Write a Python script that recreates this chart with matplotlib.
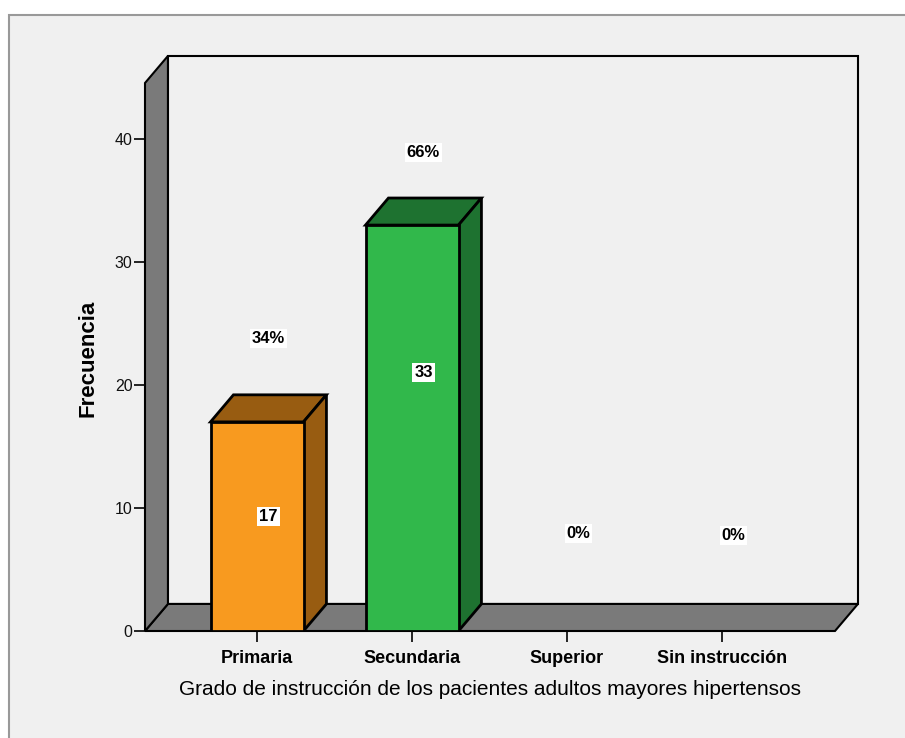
import numpy as np
import matplotlib.pyplot as plt
from matplotlib.patches import Polygon, Rectangle
from matplotlib import font_manager

categories = ["Primaria", "Secundaria", "Superior", "Sin instrucción"]
counts = [17, 33, 0, 0]
percents = ["34%", "66%", "0%", "0%"]
yticks = [0, 10, 20, 30, 40]

front_colors = ["#f89a1f", "#31b84b", "#f89a1f", "#31b84b"]
shade_colors = ["#985c11", "#1e7230", "#985c11", "#1e7230"]

# label anchor heights (data units)
count_label_y = [9.3, 21.0, 0, 0]
pct_label_y = [23.8, 38.9, 7.9, 7.8]

names = {f.name for f in font_manager.fontManager.ttflist}
narrow = "Liberation Sans Narrow" if "Liberation Sans Narrow" in names else "Liberation Sans"

W, H = 905, 738
fig = plt.figure(figsize=(W / 100, H / 100), dpi=100, facecolor="white")

# panel background with its grey frame
fig.patches.append(Rectangle((9 / W, -0.05), 1.1, 1.05 - 15 / H, transform=fig.transFigure,
                             facecolor="#f0f0f0", edgecolor="#999999", lw=1.5, zorder=-5))

ax = fig.add_axes([145 / W, 1 - 631 / H, 690 / W, 548 / H])
ax.set_facecolor("none")
x0, x1 = -0.7226, 3.729
ymax = 44.55
ax.set_xlim(x0, x1)
ax.set_ylim(0, ymax)
dx, dy = 0.148, 2.2
wall = "#7a7a7a"

# back wall, floor and left wall
ax.add_patch(Polygon([(x0 + dx, dy), (x1 + dx, dy), (x1 + dx, ymax + dy), (x0 + dx, ymax + dy)],
                     closed=True, facecolor="#f0f0f0", edgecolor="black", lw=1.5,
                     clip_on=False, zorder=1))
ax.add_patch(Polygon([(x0, 0), (x1, 0), (x1 + dx, dy), (x0 + dx, dy)],
                     closed=True, facecolor=wall, edgecolor="black", lw=1.5,
                     clip_on=False, zorder=2))
ax.add_patch(Polygon([(x0, 0), (x0, ymax), (x0 + dx, ymax + dy), (x0 + dx, dy)],
                     closed=True, facecolor=wall, edgecolor="black", lw=1.5,
                     clip_on=False, zorder=2))

bw = 0.6
xs = np.arange(len(categories))
for i, v in enumerate(counts):
    if v <= 0:
        continue
    l, r = xs[i] - bw / 2, xs[i] + bw / 2
    ax.bar(xs[i], v, width=bw, color=front_colors[i], edgecolor="black", lw=2, zorder=4)
    # top and right faces of the box
    ax.add_patch(Polygon([(l, v), (r, v), (r + dx, v + dy), (l + dx, v + dy)], closed=True,
                         facecolor=shade_colors[i], edgecolor="black", lw=2, zorder=3,
                         clip_on=False))
    ax.add_patch(Polygon([(r, 0), (r, v), (r + dx, v + dy), (r + dx, dy)], closed=True,
                         facecolor=shade_colors[i], edgecolor="black", lw=2, zorder=3,
                         clip_on=False))
    ax.text(xs[i] + dx / 2, count_label_y[i], str(v), ha="center", va="center",
            fontsize=12, fontweight="bold", family="Liberation Sans", zorder=6,
            bbox=dict(facecolor="white", edgecolor="none", pad=1.5))

for i, p in enumerate(percents):
    ax.text(xs[i] + dx / 2, pct_label_y[i], p, ha="center", va="center",
            fontsize=12, fontweight="bold", family="Liberation Sans", zorder=6,
            bbox=dict(facecolor="white", edgecolor="none", pad=1.5))

for s in ax.spines.values():
    s.set_visible(False)

ax.set_yticks(yticks)
ax.set_yticklabels([str(t) for t in yticks], family="Liberation Sans", fontsize=11.5, color="#111111")
ax.set_xticks(xs)
ax.set_xticklabels(categories, family=narrow, fontsize=13, fontweight="bold")
ax.tick_params(axis="y", length=8, width=1.2, pad=1)
ax.tick_params(axis="x", length=8, width=1.2, pad=6)

ax.set_ylabel("Frecuencia", family="Liberation Sans", fontsize=16, fontweight="bold")
ax.yaxis.set_label_coords(-0.068, 0.498)
ax.set_xlabel("Grado de instrucción de los pacientes adultos mayores hipertensos",
              family=narrow, fontsize=15, labelpad=9)

fig.savefig("out.png", dpi=100, facecolor="white")
